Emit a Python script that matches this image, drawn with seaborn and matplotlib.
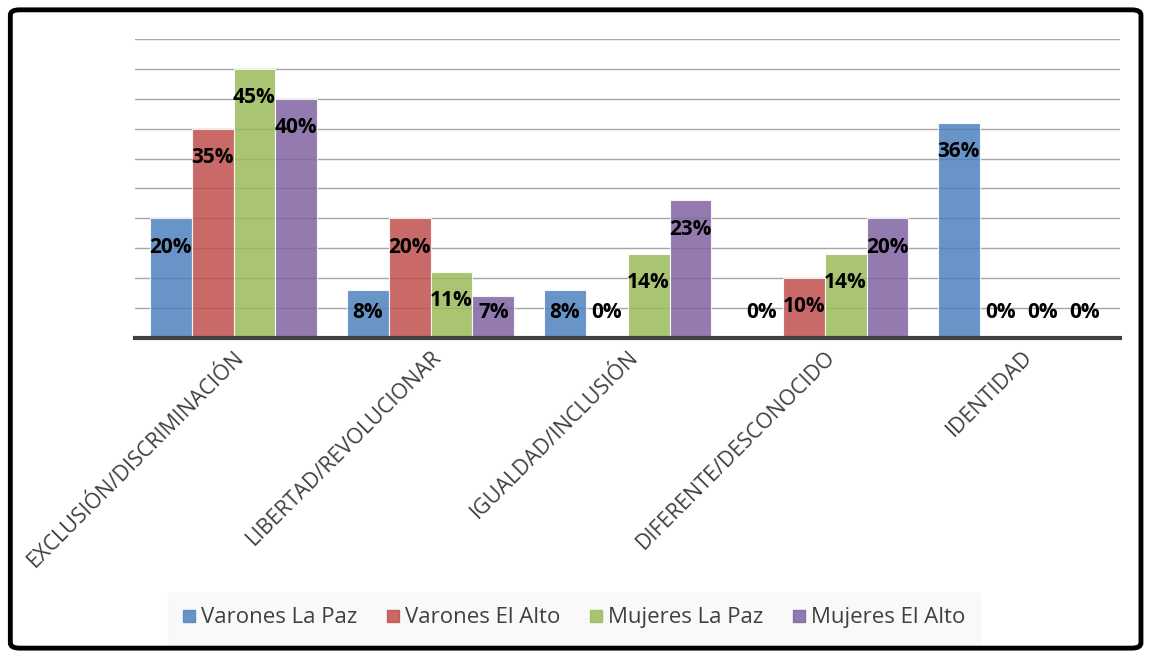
import pandas as pd
import numpy as np
import matplotlib.pyplot as plt
import seaborn as sns
from matplotlib.patches import FancyBboxPatch

# data
categorias = ['EXCLUSIÓN/DISCRIMINACIÓN', 'LIBERTAD/REVOLUCIONAR', 'IGUALDAD/INCLUSIÓN',
              'DIFERENTE/DESCONOCIDO', 'IDENTIDAD']
grupos = ['Varones La Paz', 'Varones El Alto', 'Mujeres La Paz', 'Mujeres El Alto']
varones_lp = [20, 8, 8, 0, 36]
varones_ea = [35, 20, 0, 10, 0]
mujeres_lp = [45, 11, 14, 14, 0]
mujeres_ea = [40, 7, 23, 20, 0]

colores = ['#4F81BD', '#C0504D', '#9BBB59', '#8064A2']

series = [varones_lp, varones_ea, mujeres_lp, mujeres_ea]
rows = []
for g, vals in zip(grupos, series):
    for c, v in zip(categorias, vals):
        rows.append({'categoria': c, 'grupo': g, 'valor': v})
df = pd.DataFrame(rows)

sns.set_style('white')
plt.rcParams['font.family'] = ['Open Sans', 'DejaVu Sans']

fig = plt.figure(figsize=(11.49, 6.56), dpi=100)
ax = fig.add_axes([0.1175, 0.4848, 0.8575, 0.4558])

sns.barplot(data=df, x='categoria', y='valor', hue='grupo', palette=colores,
            saturation=1, width=0.85, ax=ax, legend=False, zorder=2)

for bars, vals in zip(ax.containers, series):
    for bar, v in zip(bars, vals):
        bar.set_alpha(0.85)
        bar.set_edgecolor('white')
        bar.set_linewidth(0.8)
        cx = bar.get_x() + bar.get_width() / 2
        ypos = max(v - 4.8, 4.3)
        ax.text(cx, ypos, f'{v}%', ha='center', va='center', fontsize=15,
                fontweight='bold', color='black', zorder=4)

ax.set_ylim(0, 50)
ax.set_xlim(-0.5, 4.5)
ax.set_yticks(np.arange(5, 51, 5))
ax.set_yticklabels([])
ax.tick_params(axis='y', length=0)
ax.tick_params(axis='x', length=0, pad=6)
ax.yaxis.grid(True, color='#a6a6a6', linewidth=1.0, zorder=0)
ax.set_axisbelow(True)
ax.set_xlabel('')
ax.set_ylabel('')
for s in ['top', 'right', 'left']:
    ax.spines[s].set_visible(False)
ax.spines['bottom'].set_color('#404040')
ax.spines['bottom'].set_linewidth(3)
ax.spines['bottom'].set_zorder(5)

ax.set_xticks(range(len(categorias)))
ax.set_xticklabels(categorias, rotation=45, ha='right', rotation_mode='anchor',
                   fontsize=15.5, color='#404040')

# legend
handles = [plt.Line2D([0], [0], marker='s', linestyle='', markersize=9,
                      markerfacecolor=c, markeredgecolor=c, alpha=0.85) for c in colores]
leg = fig.legend(handles, grupos, loc='center', bbox_to_anchor=(0.4995, 0.058), ncol=4,
                 fontsize=16, frameon=True, handlelength=0.6, handletextpad=0.25,
                 columnspacing=1.3, borderpad=0.35, borderaxespad=0, labelcolor='#404040')
leg.get_frame().set_facecolor('#f8f8f8')
leg.get_frame().set_edgecolor('#f8f8f8')
leg.get_frame().set_boxstyle('square')

# outer black frame
frame = FancyBboxPatch((0.009, 0.012), 0.984, 0.973, boxstyle='round,pad=0,rounding_size=0.008',
                       transform=fig.transFigure, facecolor='none', edgecolor='black',
                       linewidth=3.5, zorder=10)
fig.patches.append(frame)

plt.savefig('out.png', dpi=100)
